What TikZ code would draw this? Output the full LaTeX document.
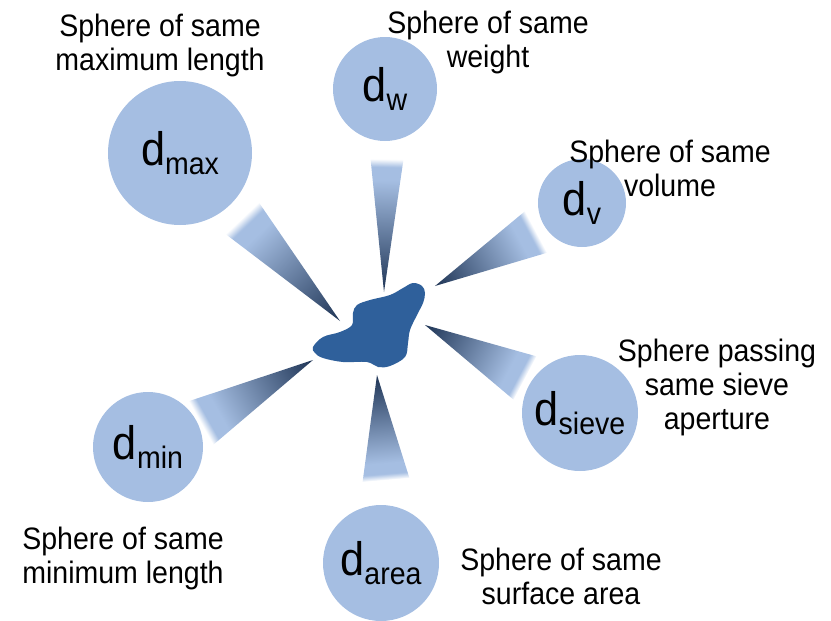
\documentclass[tikz,border=0pt]{standalone}
\usepackage{fontspec}
\setmainfont[FakeStretch=0.92]{Liberation Sans}
\definecolor{circ}{RGB}{165,190,226}
\definecolor{blobc}{RGB}{47,96,155}
\definecolor{wdark}{RGB}{30,52,85}
\definecolor{wlight}{RGB}{165,190,226}
\pgfdeclarehorizontalshading{wedgeshade}{100bp}{color(0bp)=(wdark); color(25bp)=(wdark); color(67bp)=(wlight); color(72bp)=(wlight); color(75bp)=(white); color(100bp)=(white)}
\newcommand\dlab[1]{\fontsize{47}{47}\selectfont d\raisebox{-9pt}{\fontsize{31}{31}\selectfont #1}}
\newcommand\conewedge[3]{%
  \path (#1); \pgfgetlastxy{\tipx}{\tipy}%
  \path (#2); \pgfgetlastxy{\basex}{\basey}%
  \pgfmathsetmacro\wang{atan2(\basey-\tipy,\basex-\tipx)}%
  \pgfmathsetmacro\wlen{veclen(\basex-\tipx,\basey-\tipy)}%
  \begin{scope}[transform canvas={shift={(\tipx,\tipy)}, rotate=\wang}]
    \shade[shading=wedgeshade] (0pt,0pt) -- (\wlen pt,#3 pt) -- (\wlen pt,-#3 pt) -- cycle;
  \end{scope}}
\tikzset{
  sph/.style={circle, fill=circ, inner sep=0pt},
  lab/.style={align=center, font=\fontsize{31}{34}\selectfont, inner sep=0pt}
}
\begin{document}
\begin{tikzpicture}[x=1pt,y=-1pt]
\useasboundingbox (0,0) rectangle (831,621);
% spheres
\node[sph, minimum size=144pt] (cmax) at (180,153) {\dlab{max}};
\node[sph, minimum size=104pt] (cw) at (385,89) {\dlab{w}};
\node[sph, minimum size=88pt] (cv) at (582,203) {\dlab{v}};
\node[sph, minimum size=116pt] (csieve) at (580,413) {\dlab{sieve}};
\node[sph, minimum size=116pt] (carea) at (381,563) {\dlab{area}};
\node[sph, minimum size=110pt] (cmin) at (148,447) {\dlab{min}};
% wedge ends
\coordinate (tmax) at (340,321); \coordinate (bmax) at (242,218);
\coordinate (tw) at (384,292);   \coordinate (bw) at (387,159);
\coordinate (tv) at (435,286);   \coordinate (bv) at (536,232);
\coordinate (tsieve) at (425,325); \coordinate (bsieve) at (525,378);
\coordinate (tarea) at (377,375); \coordinate (barea) at (386,480);
\coordinate (tmin) at (313,360); \coordinate (bmin) at (201,423);
\conewedge{tmax}{bmax}{23}
\conewedge{tw}{bw}{16.5}
\conewedge{tv}{bv}{23.5}
\conewedge{tsieve}{bsieve}{24.5}
\conewedge{tarea}{barea}{23.5}
\conewedge{tmin}{bmin}{25}
% particle
\fill[blobc] plot[smooth cycle, tension=0.6] coordinates {
 (313,347) (323,337) (340,332) (352,325) (353,313) (357,305) (370,300)
 (390,295) (403,288) (413,283) (422,286) (425,293) (423,303) (417,315)
 (410,330) (408,343) (405,357) (390,366) (378,367) (367,362) (343,362)
 (323,358) (315,353)};
\node[blobc, inner sep=0pt] (particle) at (370,325) {};
% labels
\node[lab] (lmax) at (160,45) {Sphere of same\\maximum length};
\node[lab] (lw) at (488,42) {Sphere of same\\weight};
\node[lab] (lv) at (670,168) {Sphere of same\\volume};
\node[lab] (lsieve) at (717,387) {Sphere passing\\same sieve\\aperture};
\node[lab] (lmin) at (123,558) {Sphere of same\\minimum length};
\node[lab] (larea) at (561,576) {Sphere of same\\surface area};
\end{tikzpicture}
\end{document}
